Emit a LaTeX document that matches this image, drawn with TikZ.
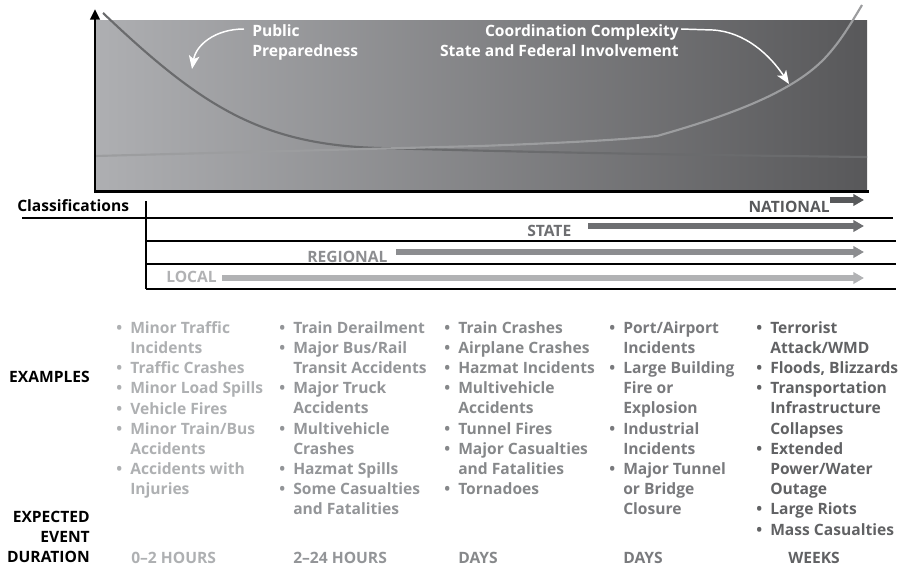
\documentclass[tikz,border=0pt]{standalone}
\usepackage{fontspec}
\setmainfont{Open Sans}
\usetikzlibrary{arrows.meta}
\definecolor{cA}{HTML}{AEB0B2}
\definecolor{cB}{HTML}{939598}
\definecolor{cC}{HTML}{86888A}
\definecolor{cD}{HTML}{797A7D}
\definecolor{cE}{HTML}{616264}
\definecolor{natC}{HTML}{58595B}
\definecolor{staC}{HTML}{6D6E71}
\definecolor{regC}{HTML}{8C8D90}
\definecolor{locC}{HTML}{B1B2B4}
\definecolor{gradL}{HTML}{AEAFB2}
\definecolor{gradR}{HTML}{58585A}
\definecolor{curveA}{HTML}{6A6B6D}
\definecolor{curveB}{HTML}{9C9D9F}
\newcommand\bul{\makebox[10.5pt][l]{\textbullet}}
\newcommand\ind{\makebox[10.5pt]{}}
\begin{document}
\begin{tikzpicture}[x=0.75pt,y=-0.75pt,
  every node/.style={inner sep=0pt, font=\fontsize{11.7}{15.15}\selectfont\bfseries},
  col/.style={anchor=north west, align=left},
  rule/.style={black, line width=0.8pt},
  clsarrow/.style={line width=3.8pt, -{Triangle[length=8pt,width=8.5pt]}},
  note/.style={white, line width=1.1pt, -{Stealth[length=10pt,width=8pt,inset=2.5pt]}},
  curve/.style={line width=1.6pt}
]
\useasboundingbox (0,0) rectangle (906,569);

% ---- chart ----
\shade[left color=gradL, right color=gradR] (95,20) rectangle (867,191);
\draw[curve, curveA] (103,13) .. controls (200,105) and (260,145) .. (380,148)
  .. controls (450,150) and (600,154) .. (867,157);
\draw[curve, curveB] (95,156) -- (480,146) .. controls (560,143) and (620,140) .. (657,136)
  .. controls (720,118) and (790,95) .. (825,58) .. controls (840,42) and (850,25) .. (862,5);
\draw[line width=2.25pt] (94,191) -- (869,191);
\draw[line width=2pt, -{Triangle[length=8pt,width=7pt]}] (95,192) -- (95,9);

\node[col, white] (pp) at (252,24) {Public\\Preparedness};
\node[anchor=north east, align=right, white] (cc) at (679,24) {Coordination Complexity\\State and Federal Involvement};
\coordinate (ppStart) at (244,29);
\coordinate (ppEnd) at (192,69);
\coordinate (ccStart) at (681,29);
\coordinate (ccMid) at (713,30);
\coordinate (ccEnd) at (789,84);
\draw[note] (ppStart) .. controls (215,29) and (196,45) .. (ppEnd);
\draw[note] (ccStart) -- (ccMid) .. controls (745,32) and (770,55) .. (ccEnd);

% ---- classifications ----
\node[anchor=base west] (classif) at (17,211) {Classifications};
\draw[rule] (22,218) -- (893,218);
\draw[rule] (146,201) -- (146,289);
\draw[rule] (146,241) -- (896,241);
\draw[rule] (146,264) -- (896,264);
\draw[rule] (146,289) -- (896,289);

\node[anchor=base east, natC] (nat) at (830,212) {NATIONAL};
\node[anchor=base west, staC] (sta) at (527,236) {STATE};
\node[anchor=base west, regC] (reg) at (307,262) {REGIONAL};
\node[anchor=base west, locC] (loc) at (166,282) {LOCAL};
\coordinate (natS) at (830,200); \coordinate (natE) at (864,200);
\coordinate (staS) at (588,226); \coordinate (staE) at (864,226);
\coordinate (regS) at (396,252); \coordinate (regE) at (864,252);
\coordinate (locS) at (222,278); \coordinate (locE) at (864,278);
\draw[clsarrow, natC] (natS) -- (natE);
\draw[clsarrow, staC] (staS) -- (staE);
\draw[clsarrow, regC] (regS) -- (regE);
\draw[clsarrow, locC] (locS) -- (locE);

% ---- examples ----
\node[anchor=base east] (ex) at (90,382) {EXAMPLES};
\node[anchor=south east, align=right] (dur) at (90,563) {EXPECTED\\EVENT\\DURATION};

\node[col, cA] (c1) at (116,321) {\bul Minor Traffic\\\ind Incidents\\\bul Traffic Crashes\\\bul Minor Load Spills\\\bul Vehicle Fires\\\bul Minor Train/Bus\\\ind Accidents\\\bul Accidents with\\\ind Injuries};
\node[col, cB] (c2) at (279,321) {\bul Train Derailment\\\bul Major Bus/Rail\\\ind Transit Accidents\\\bul Major Truck\\\ind Accidents\\\bul Multivehicle\\\ind Crashes\\\bul Hazmat Spills\\\bul Some Casualties\\\ind and Fatalities};
\node[col, cC] (c3) at (444,321) {\bul Train Crashes\\\bul Airplane Crashes\\\bul Hazmat Incidents\\\bul Multivehicle\\\ind Accidents\\\bul Tunnel Fires\\\bul Major Casualties\\\ind and Fatalities\\\bul Tornadoes};
\node[col, cD] (c4) at (609,321) {\bul Port/Airport\\\ind Incidents\\\bul Large Building\\\ind Fire or\\\ind Explosion\\\bul Industrial\\\ind Incidents\\\bul Major Tunnel\\\ind or Bridge\\\ind Closure};
\node[col, cE] (c5) at (756,321) {\bul Terrorist\\\ind Attack/WMD\\\bul Floods, Blizzards\\\bul Transportation\\\ind Infrastructure\\\ind Collapses\\\bul Extended\\\ind Power/Water\\\ind Outage\\\bul Large Riots\\\bul Mass Casualties};

\node[anchor=base west, cA] (d1) at (131,563) {0--2 HOURS};
\node[anchor=base west, cB] (d2) at (293,563) {2--24 HOURS};
\node[anchor=base west, cC] (d3) at (458,563) {DAYS};
\node[anchor=base west, cD] (d4) at (623,563) {DAYS};
\node[anchor=base west, cE] (d5) at (788,563) {WEEKS};
\end{tikzpicture}
\end{document}
